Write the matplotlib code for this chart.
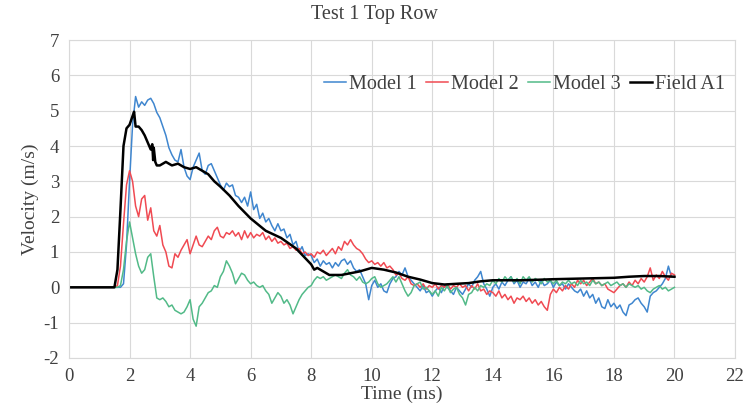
import numpy as np
import matplotlib
matplotlib.use("Agg")
import matplotlib.pyplot as plt

# ---- Data ----
model1 = [
    0, 0, 0, 0, 0, 0, 0, 0, 0, 0,
    0, 0, 0, 0, 0, 0, 0, 0, 0.1, 1.2,
    3.0, 4.6, 5.4, 5.1, 5.25, 5.15, 5.3, 5.35, 5.2, 4.95,
    4.8, 4.55, 4.3, 3.95, 3.75, 3.6, 3.55, 3.9, 3.4, 3.15,
    3.05, 3.4, 3.6, 3.8, 3.3, 3.2, 3.45, 3.5, 3.3, 3.1,
    2.9, 2.75, 2.95, 2.85, 2.9, 2.6, 2.55, 2.4, 2.55, 2.3,
    2.7, 2.2, 2.35, 1.95, 2.1, 1.85, 1.95, 1.75, 1.6, 1.8,
    1.6, 1.65, 1.4, 1.5, 1.2, 1.3, 1.0, 1.15, 0.9, 0.95,
    0.9, 0.7, 0.8, 0.6, 0.75, 0.65, 0.7, 0.55, 0.7, 0.6,
    0.75, 0.8, 0.65, 0.75, 0.55, 0.45, 0.5, 0.3, 0.1, -0.35,
    0.05, 0.2, 0.0, 0.1, -0.1, -0.15, 0.1, 0.25, 0.3, 0.45,
    0.35, 0.55, 0.3, 0.2, 0.1, 0.0, -0.1, 0.05, -0.15, -0.1,
    -0.25, -0.1, 0.0, -0.15, 0.05, 0.0, -0.1, -0.2, 0.0, -0.1,
    -0.2, -0.05, 0.1, 0.0, 0.2, 0.3, 0.45, 0.1, -0.05, -0.25,
    0.0, 0.1, -0.05, 0.15, 0.05, 0.2, 0.3, 0.1, 0.2, 0.0,
    0.15, 0.1, 0.25, 0.05, 0.15, 0.0, 0.2, 0.05, 0.1, 0.2,
    0.0, 0.15, 0.05, 0.1, -0.05, 0.1, 0.0, -0.1, -0.15, -0.05,
    -0.25, -0.1, -0.3, -0.2, -0.45, -0.3, -0.55, -0.6, -0.35, -0.55,
    -0.45, -0.6, -0.5, -0.7, -0.8, -0.5, -0.45, -0.35, -0.3, -0.45,
    -0.55, -0.7, -0.25, -0.15, -0.1, 0.0, 0.1, 0.25, 0.6, 0.3,
    0.3,
]

model2 = [
    0, 0, 0, 0, 0, 0, 0, 0, 0, 0,
    0, 0, 0, 0, 0, 0, 0.05, 0.6, 1.8, 2.9,
    3.3, 3.0, 2.3, 2.0, 2.5, 2.6, 1.9, 2.25, 1.6, 1.45,
    1.75, 1.2, 1.0, 0.6, 0.55, 0.95, 0.85, 1.05, 1.2, 1.35,
    0.95, 1.2, 1.45, 1.2, 1.15, 1.3, 1.45, 1.35, 1.6, 1.7,
    1.45, 1.4, 1.55, 1.5, 1.6, 1.45, 1.55, 1.35, 1.6, 1.4,
    1.55, 1.4, 1.5, 1.45, 1.55, 1.35, 1.45, 1.3, 1.4, 1.25,
    1.3, 1.2, 1.25, 1.1, 1.15, 1.05, 1.1, 0.95, 1.0, 0.9,
    0.95, 0.85, 1.0, 0.95, 1.05, 0.9, 1.0, 1.1, 0.95, 1.15,
    1.05, 1.3, 1.2, 1.35, 1.2, 1.1, 1.05, 0.95, 0.8, 0.7,
    0.75, 0.65, 0.7, 0.6, 0.7, 0.55, 0.6, 0.5, 0.35, 0.4,
    0.25, 0.2, 0.3, 0.1, 0.05, 0.1, 0.0, 0.1, -0.05, 0.05,
    0.0, 0.1, -0.05, 0.05, 0.0, 0.1, -0.05, 0.05, 0.0, 0.1,
    0.0, 0.05, -0.1, 0.05, -0.05, 0.1, -0.1, -0.05, -0.2, -0.1,
    -0.15, -0.25, -0.1, -0.3, -0.2, -0.35, -0.25, -0.45, -0.3, -0.35,
    -0.25, -0.4, -0.3, -0.45, -0.35, -0.5, -0.4, -0.55, -0.65, -0.2,
    -0.05, -0.15, 0.0, -0.1, 0.05, -0.05, 0.1, 0.0, 0.2, 0.1,
    0.2, 0.05, 0.15, 0.25, 0.1, 0.15, 0.05, 0.1, -0.05, -0.1,
    -0.15, -0.05, 0.05, 0.1, 0.0, 0.15, 0.05, 0.2, 0.1, 0.25,
    0.15, 0.3, 0.55, 0.2, 0.35, 0.25, 0.45, 0.3, 0.2, 0.4,
    0.35,
]

model3 = [
    0, 0, 0, 0, 0, 0, 0, 0, 0, 0,
    0, 0, 0, 0, 0, 0, 0, 0.05, 0.5, 1.3,
    1.85, 1.4, 0.95, 0.6, 0.4, 0.5, 0.85, 0.95, 0.3, -0.3,
    -0.35, -0.3, -0.4, -0.55, -0.5, -0.65, -0.7, -0.75, -0.7, -0.55,
    -0.35, -0.9, -1.1, -0.55, -0.45, -0.3, -0.15, -0.1, 0.05, 0.0,
    0.3, 0.45, 0.75, 0.6, 0.4, 0.1, 0.25, 0.4, 0.35, 0.2,
    0.1, 0.15, 0.05, 0.0, 0.05, -0.1, -0.2, -0.45, -0.3, -0.15,
    -0.25, -0.45, -0.35, -0.5, -0.75, -0.55, -0.35, -0.2, -0.1, 0.0,
    0.05, 0.2, 0.3, 0.25, 0.3, 0.2, 0.25, 0.3, 0.35, 0.3,
    0.25, 0.4, 0.5, 0.35, 0.3, 0.2, 0.3, 0.15, 0.1, 0.15,
    0.25, 0.3, 0.1, 0.0, 0.05, 0.1, 0.2, 0.3, 0.15, 0.3,
    0.1, -0.1, -0.25, -0.15, 0.05, 0.1, 0.15, -0.05, 0.0, -0.1,
    -0.2, -0.1, -0.25, 0.0, -0.1, 0.05, -0.15, -0.05, 0.0, -0.2,
    -0.3, -0.5, -0.2, -0.15, 0.0, -0.1, 0.05, 0.0, 0.1, 0.05,
    0.2, 0.1, 0.25, 0.15, 0.3, 0.2, 0.3, 0.15, 0.25, 0.1,
    0.3, 0.2, 0.3, 0.15, 0.25, 0.2, 0.1, 0.25, 0.15, 0.2,
    0.1, 0.2, 0.05, 0.15, 0.1, 0.2, 0.1, 0.15, 0.05, 0.2,
    0.1, 0.15, 0.05, 0.2, 0.1, 0.15, 0.05, 0.1, 0.15, 0.05,
    0.1, 0.15, 0.05, 0.1, 0.0, 0.1, 0.05, 0.0, 0.05, -0.05,
    0.0, -0.1, -0.15, -0.05, 0.0, 0.05, -0.05, 0.0, -0.1, -0.05,
    0.0,
]

field_time = [0, 1.5, 1.6, 1.7, 1.8, 1.9, 2.0, 2.1, 2.15, 2.2,
              2.3, 2.4, 2.5, 2.6, 2.7, 2.75, 2.78, 2.8, 2.85, 2.9,
              3.0, 3.2, 3.4, 3.6, 3.8, 4.0, 4.2, 4.4, 4.6, 4.8,
              5.0, 5.3, 5.6, 6.0, 6.5, 7.0, 7.5, 8.0, 8.1, 8.2,
              8.4, 8.6, 9.0, 9.3, 9.6, 10.0, 10.4, 10.8, 11.2, 11.6,
              12.0, 12.4, 12.8, 13.2, 13.6, 14.0, 15.0, 16.0, 17.0, 18.0,
              18.5, 19.0, 19.5, 20.0]
field_a1 = [0, 0, 0.5, 2.2, 4.0, 4.5, 4.6, 4.85, 4.97, 4.55,
            4.55, 4.45, 4.3, 4.1, 3.9, 4.05, 3.6, 3.95, 3.55, 3.45,
            3.45, 3.55, 3.45, 3.5, 3.4, 3.35, 3.4, 3.3, 3.2, 3.0,
            2.85, 2.6, 2.3, 1.95, 1.6, 1.4, 1.1, 0.65, 0.5, 0.55,
            0.45, 0.35, 0.35, 0.4, 0.45, 0.55, 0.5, 0.42, 0.3, 0.22,
            0.12, 0.08, 0.1, 0.12, 0.17, 0.2, 0.2, 0.23, 0.25, 0.27,
            0.3, 0.32, 0.32, 0.3]

series_names = ["Model 1", "Model 2", "Model 3", "Field A1"]
x_ticks = list(range(0, 23, 2))
y_ticks = list(range(-2, 8))

# ---- Plot ----
plt.rcParams['font.family'] = ['Liberation Serif', 'DejaVu Serif']
plt.rcParams['axes.unicode_minus'] = False

fig = plt.figure(figsize=(7.48, 4.09), dpi=100)
ax = fig.add_axes([69 / 748, 1 - 358 / 409, (735 - 69) / 748, (358 - 40) / 409])

colors = ["#3f86cf", "#f04a52", "#52ba88", "#000000"]
ax.plot(np.arange(len(model1)) * 0.1, model1, color=colors[0], lw=1.1, label=series_names[0])
ax.plot(np.arange(len(model2)) * 0.1, model2, color=colors[1], lw=1.1, label=series_names[1])
ax.plot(np.arange(len(model3)) * 0.1, model3, color=colors[2], lw=1.1, label=series_names[2])
ax.plot(field_time, field_a1, color=colors[3], lw=1.8, label=series_names[3])

ax.set_xlim(0, 22)
ax.set_ylim(-2, 7)
ax.set_xticks(x_ticks)
ax.set_yticks(y_ticks)
ax.grid(True, color="#d9d9d9", lw=0.8)
ax.set_axisbelow(True)
for s in ax.spines.values():
    s.set_color("#d9d9d9")
    s.set_linewidth(0.8)
ax.tick_params(length=0, labelsize=13.5, colors="#404040", pad=7)
ax.set_xlabel("Time (ms)", fontsize=14, color="#404040", labelpad=1)
ax.set_ylabel("Velocity (m/s)", fontsize=14, color="#404040", labelpad=3)
fig.text(0.5, 1 - 15 / 409, "Test 1 Top Row", ha="center", va="center",
         fontsize=14.5, color="#404040")

leg = ax.legend(loc="center right", bbox_to_anchor=(1.0, (5.75 + 2) / 9), ncol=4,
                frameon=False, fontsize=14.5, handlelength=1.1, handletextpad=0.15,
                columnspacing=0.45, borderaxespad=0.1)
for txt in leg.get_texts():
    txt.set_color("#404040")

fig.savefig("out.png", dpi=100)
